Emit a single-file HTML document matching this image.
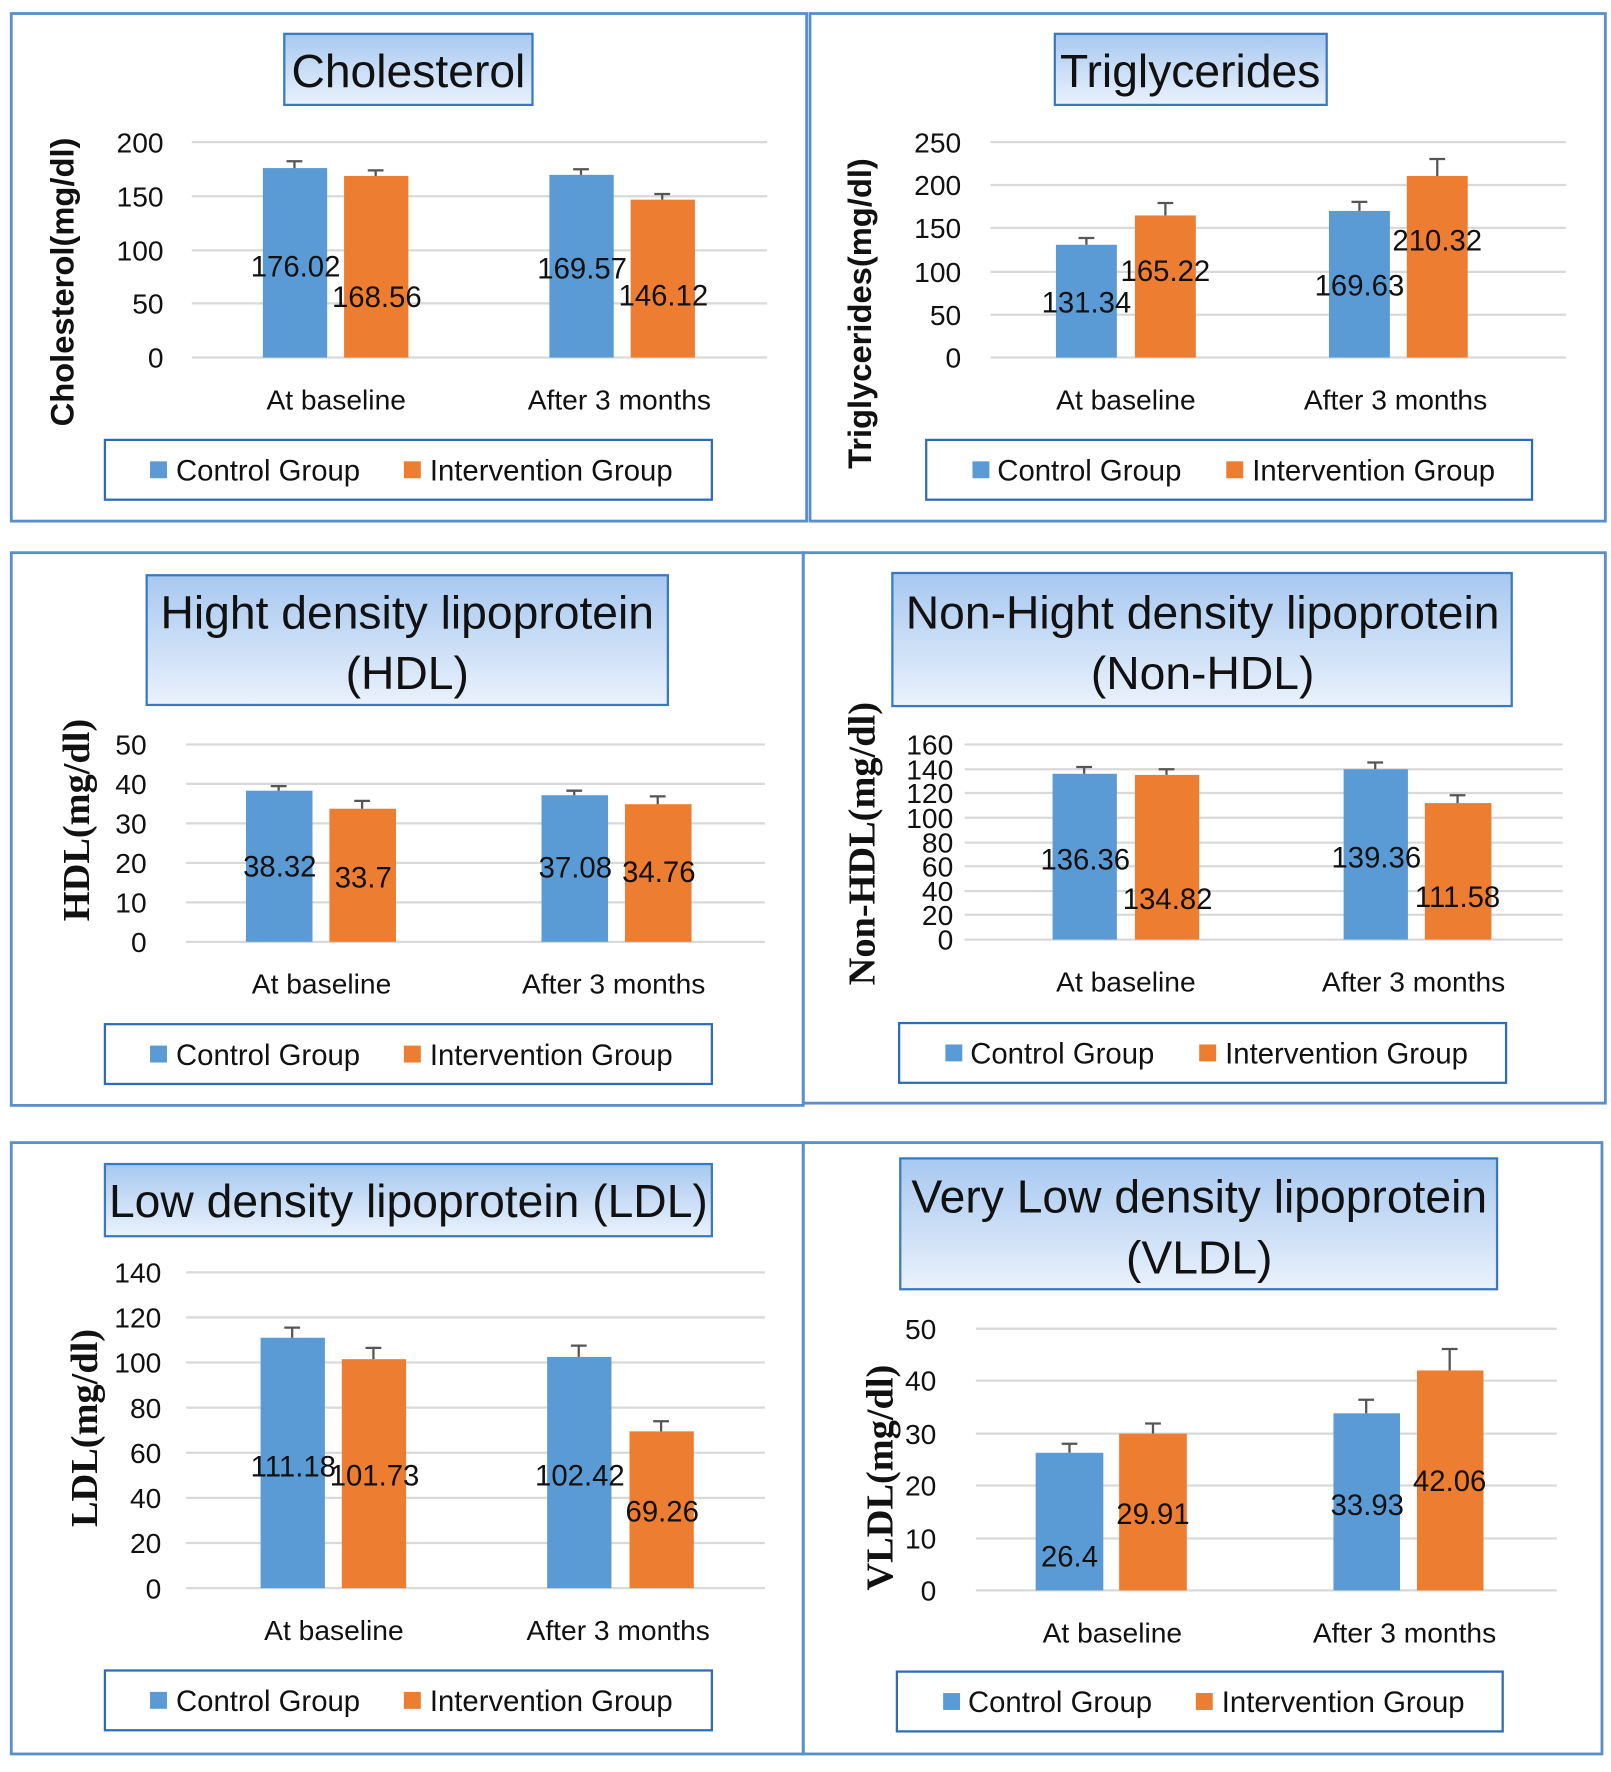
<!DOCTYPE html>
<html><head><meta charset="utf-8"><style>
html,body{margin:0;padding:0;background:#fff;}
svg{display:block}
text{font-family:"Liberation Sans",sans-serif;fill:#111}
.t{font-size:26px}
.ti{font-size:41px;text-anchor:middle}
.tk{font-size:25px;text-anchor:end}
.c{font-size:25px;text-anchor:middle}
.d{font-size:26px;text-anchor:middle}
.ys{font-size:29px;font-weight:bold;text-anchor:middle}
.yr{font-family:"Liberation Serif",serif;font-size:34px;font-weight:bold;text-anchor:middle}
.g{stroke:#d9d9d9;stroke-width:2}
.pb{fill:none;stroke:#5b8fc9;stroke-width:2.5}
.tb{fill:url(#gr);stroke:#3a79c0;stroke-width:2}
.lb{fill:#fff;stroke:#2e6db5;stroke-width:2}
.b{fill:#5b9bd5}.o{fill:#ed7d31}
.e{stroke:#555;stroke-width:2;fill:none}
</style></head><body>
<svg width="1611" height="1772" viewBox="0 0 1428 1571" preserveAspectRatio="none" xmlns="http://www.w3.org/2000/svg">
<defs><linearGradient id="gr" x1="0" y1="0" x2="0" y2="1"><stop offset="0" stop-color="#a7c8f0"/><stop offset="1" stop-color="#eaf2fc"/></linearGradient></defs>

<!-- P1 -->
<rect class="pb" x="10" y="12" width="705" height="450"/>
<rect class="tb" x="252" y="30" width="220" height="63"/>
<text class="ti" x="362" y="77">Cholesterol</text>
<g class="g"><line x1="170" x2="680" y1="126" y2="126"/><line x1="170" x2="680" y1="174" y2="174"/><line x1="170" x2="680" y1="222" y2="222"/><line x1="170" x2="680" y1="269" y2="269"/><line x1="170" x2="680" y1="317" y2="317"/></g>
<text class="tk" x="145" y="135">200</text><text class="tk" x="145" y="183">150</text><text class="tk" x="145" y="231">100</text><text class="tk" x="145" y="278">50</text><text class="tk" x="145" y="326">0</text>
<rect class="b" x="233" y="149" width="57" height="168"/><rect class="o" x="305" y="156" width="57" height="161"/>
<rect class="b" x="487" y="155" width="57" height="162"/><rect class="o" x="559" y="177" width="57" height="140"/>
<path class="e" d="M261 149V143M254 143H268M333 156V151M326 151H340M515 155V150M508 150H522M587 177V172M580 172H594"/>
<text class="d" x="262" y="245">176.02</text><text class="d" x="334" y="272">168.56</text><text class="d" x="516" y="247">169.57</text><text class="d" x="588" y="271">146.12</text>
<text class="c" x="298" y="363">At baseline</text><text class="c" x="549" y="363">After 3 months</text>
<text class="ys" transform="translate(65,250) rotate(-90)">Cholesterol(mg/dl)</text>
<rect class="lb" x="93" y="390" width="538" height="53"/>
<rect class="b" x="133" y="409" width="15" height="15"/><text class="t" x="156" y="426">Control Group</text>
<rect class="o" x="358" y="409" width="15" height="15"/><text class="t" x="381" y="426">Intervention Group</text>

<!-- P2 -->
<rect class="pb" x="718" y="12" width="705" height="450"/>
<rect class="tb" x="935" y="30" width="241" height="63"/>
<text class="ti" x="1055" y="77">Triglycerides</text>
<g class="g"><line x1="878" x2="1388" y1="126" y2="126"/><line x1="878" x2="1388" y1="164" y2="164"/><line x1="878" x2="1388" y1="202" y2="202"/><line x1="878" x2="1388" y1="241" y2="241"/><line x1="878" x2="1388" y1="279" y2="279"/><line x1="878" x2="1388" y1="317" y2="317"/></g>
<text class="tk" x="852" y="135">250</text><text class="tk" x="852" y="173">200</text><text class="tk" x="852" y="211">150</text><text class="tk" x="852" y="250">100</text><text class="tk" x="852" y="288">50</text><text class="tk" x="852" y="326">0</text>
<rect class="b" x="936" y="217" width="54" height="100"/><rect class="o" x="1006" y="191" width="54" height="126"/>
<rect class="b" x="1178" y="187" width="54" height="130"/><rect class="o" x="1247" y="156" width="54" height="161"/>
<path class="e" d="M963 217V211M956 211H970M1033 191V180M1026 180H1040M1205 187V179M1198 179H1212M1274 156V141M1267 141H1281"/>
<text class="d" x="963" y="277">131.34</text><text class="d" x="1033" y="249">165.22</text><text class="d" x="1205" y="262">169.63</text><text class="d" x="1274" y="222">210.32</text>
<text class="c" x="998" y="363">At baseline</text><text class="c" x="1237" y="363">After 3 months</text>
<text class="ys" transform="translate(772,278) rotate(-90)">Triglycerides(mg/dl)</text>
<rect class="lb" x="821" y="390" width="537" height="53"/>
<rect class="b" x="862" y="409" width="15" height="15"/><text class="t" x="884" y="426">Control Group</text>
<rect class="o" x="1087" y="409" width="15" height="15"/><text class="t" x="1110" y="426">Intervention Group</text>

<!-- P3 -->
<rect class="pb" x="10" y="490" width="702" height="490"/>
<rect class="tb" x="130" y="510" width="462" height="115"/>
<text class="ti" x="361" y="557">Hight density lipoprotein</text><text class="ti" x="361" y="611">(HDL)</text>
<g class="g"><line x1="165" x2="678" y1="660" y2="660"/><line x1="165" x2="678" y1="695" y2="695"/><line x1="165" x2="678" y1="730" y2="730"/><line x1="165" x2="678" y1="765" y2="765"/><line x1="165" x2="678" y1="800" y2="800"/><line x1="165" x2="678" y1="835" y2="835"/></g>
<text class="tk" x="130" y="669">50</text><text class="tk" x="130" y="704">40</text><text class="tk" x="130" y="739">30</text><text class="tk" x="130" y="774">20</text><text class="tk" x="130" y="809">10</text><text class="tk" x="130" y="844">0</text>
<rect class="b" x="218" y="701" width="59" height="134"/><rect class="o" x="292" y="717" width="59" height="118"/>
<rect class="b" x="480" y="705" width="59" height="130"/><rect class="o" x="554" y="713" width="59" height="122"/>
<path class="e" d="M247 701V697M240 697H254M321 717V710M314 710H328M509 705V701M502 701H516M583 713V706M576 706H590"/>
<text class="d" x="248" y="777">38.32</text><text class="d" x="322" y="787">33.7</text><text class="d" x="510" y="778">37.08</text><text class="d" x="584" y="782">34.76</text>
<text class="c" x="285" y="881">At baseline</text><text class="c" x="544" y="881">After 3 months</text>
<text class="yr" transform="translate(79,727) rotate(-90)">HDL(mg/dl)</text>
<rect class="lb" x="93" y="908" width="538" height="53"/>
<rect class="b" x="133" y="927" width="15" height="15"/><text class="t" x="156" y="944">Control Group</text>
<rect class="o" x="358" y="927" width="15" height="15"/><text class="t" x="381" y="944">Intervention Group</text>

<!-- P4 -->
<rect class="pb" x="712" y="490" width="711" height="488"/>
<rect class="tb" x="791" y="508" width="549" height="118"/>
<text class="ti" x="1066" y="557">Non-Hight density lipoprotein</text><text class="ti" x="1066" y="611">(Non-HDL)</text>
<g class="g"><line x1="855" x2="1385" y1="660" y2="660"/><line x1="855" x2="1385" y1="682" y2="682"/><line x1="855" x2="1385" y1="703" y2="703"/><line x1="855" x2="1385" y1="725" y2="725"/><line x1="855" x2="1385" y1="747" y2="747"/><line x1="855" x2="1385" y1="768" y2="768"/><line x1="855" x2="1385" y1="790" y2="790"/><line x1="855" x2="1385" y1="811" y2="811"/><line x1="855" x2="1385" y1="833" y2="833"/></g>
<text class="tk" x="845" y="669">160</text><text class="tk" x="845" y="691">140</text><text class="tk" x="845" y="712">120</text><text class="tk" x="845" y="734">100</text><text class="tk" x="845" y="756">80</text><text class="tk" x="845" y="777">60</text><text class="tk" x="845" y="799">40</text><text class="tk" x="845" y="820">20</text><text class="tk" x="845" y="842">0</text>
<rect class="b" x="933" y="686" width="57" height="147"/><rect class="o" x="1006" y="687" width="57" height="146"/>
<rect class="b" x="1191" y="682" width="57" height="151"/><rect class="o" x="1263" y="712" width="59" height="121"/>
<path class="e" d="M961 686V680M954 680H968M1034 687V682M1027 682H1041M1219 682V676M1212 676H1226M1292 712V705M1285 705H1299"/>
<text class="d" x="962" y="771">136.36</text><text class="d" x="1035" y="806">134.82</text><text class="d" x="1220" y="769">139.36</text><text class="d" x="1292" y="804">111.58</text>
<text class="c" x="998" y="879">At baseline</text><text class="c" x="1253" y="879">After 3 months</text>
<text class="yr" transform="translate(775,748) rotate(-90)">Non-HDL(mg/dl)</text>
<rect class="lb" x="797" y="907" width="538" height="53"/>
<rect class="b" x="838" y="926" width="15" height="15"/><text class="t" x="860" y="943">Control Group</text>
<rect class="o" x="1063" y="926" width="15" height="15"/><text class="t" x="1086" y="943">Intervention Group</text>

<!-- P5 -->
<rect class="pb" x="10" y="1013" width="702" height="542"/>
<rect class="tb" x="93" y="1032" width="538" height="64"/>
<text class="ti" x="362" y="1079">Low density lipoprotein (LDL)</text>
<g class="g"><line x1="165" x2="678" y1="1128" y2="1128"/><line x1="165" x2="678" y1="1168" y2="1168"/><line x1="165" x2="678" y1="1208" y2="1208"/><line x1="165" x2="678" y1="1248" y2="1248"/><line x1="165" x2="678" y1="1288" y2="1288"/><line x1="165" x2="678" y1="1328" y2="1328"/><line x1="165" x2="678" y1="1368" y2="1368"/><line x1="165" x2="678" y1="1408" y2="1408"/></g>
<text class="tk" x="143" y="1137">140</text><text class="tk" x="143" y="1177">120</text><text class="tk" x="143" y="1217">100</text><text class="tk" x="143" y="1257">80</text><text class="tk" x="143" y="1297">60</text><text class="tk" x="143" y="1337">40</text><text class="tk" x="143" y="1377">20</text><text class="tk" x="143" y="1417">0</text>
<rect class="b" x="231" y="1186" width="57" height="222"/><rect class="o" x="303" y="1205" width="57" height="203"/>
<rect class="b" x="485" y="1203" width="57" height="205"/><rect class="o" x="558" y="1269" width="57" height="139"/>
<path class="e" d="M259 1186V1177M252 1177H266M331 1205V1195M324 1195H338M513 1203V1193M506 1193H520M586 1269V1260M579 1260H593"/>
<text class="d" x="260" y="1309">111.18</text><text class="d" x="332" y="1317">101.73</text><text class="d" x="514" y="1317">102.42</text><text class="d" x="587" y="1349">69.26</text>
<text class="c" x="296" y="1454">At baseline</text><text class="c" x="548" y="1454">After 3 months</text>
<text class="yr" transform="translate(86,1266) rotate(-90)">LDL(mg/dl)</text>
<rect class="lb" x="93" y="1481" width="538" height="53"/>
<rect class="b" x="133" y="1500" width="15" height="15"/><text class="t" x="156" y="1517">Control Group</text>
<rect class="o" x="358" y="1500" width="15" height="15"/><text class="t" x="381" y="1517">Intervention Group</text>

<!-- P6 -->
<rect class="pb" x="712" y="1013" width="708" height="542"/>
<rect class="tb" x="798" y="1027" width="529" height="116"/>
<text class="ti" x="1063" y="1075">Very Low density lipoprotein</text><text class="ti" x="1063" y="1129">(VLDL)</text>
<g class="g"><line x1="865" x2="1380" y1="1178" y2="1178"/><line x1="865" x2="1380" y1="1224" y2="1224"/><line x1="865" x2="1380" y1="1271" y2="1271"/><line x1="865" x2="1380" y1="1317" y2="1317"/><line x1="865" x2="1380" y1="1364" y2="1364"/><line x1="865" x2="1380" y1="1410" y2="1410"/></g>
<text class="tk" x="830" y="1187">50</text><text class="tk" x="830" y="1233">40</text><text class="tk" x="830" y="1280">30</text><text class="tk" x="830" y="1326">20</text><text class="tk" x="830" y="1373">10</text><text class="tk" x="830" y="1419">0</text>
<rect class="b" x="918" y="1288" width="60" height="122"/><rect class="o" x="992" y="1271" width="60" height="139"/>
<rect class="b" x="1182" y="1253" width="59" height="157"/><rect class="o" x="1256" y="1215" width="59" height="195"/>
<path class="e" d="M948 1288V1280M941 1280H955M1022 1271V1262M1015 1262H1029M1211 1253V1241M1204 1241H1218M1285 1215V1196M1278 1196H1292"/>
<text class="d" x="948" y="1389">26.4</text><text class="d" x="1022" y="1351">29.91</text><text class="d" x="1212" y="1343">33.93</text><text class="d" x="1285" y="1322">42.06</text>
<text class="c" x="986" y="1456">At baseline</text><text class="c" x="1245" y="1456">After 3 months</text>
<text class="yr" transform="translate(791,1310) rotate(-90)">VLDL(mg/dl)</text>
<rect class="lb" x="795" y="1482" width="537" height="53"/>
<rect class="b" x="836" y="1501" width="15" height="15"/><text class="t" x="858" y="1518">Control Group</text>
<rect class="o" x="1060" y="1501" width="15" height="15"/><text class="t" x="1083" y="1518">Intervention Group</text>
</svg>
</body></html>
